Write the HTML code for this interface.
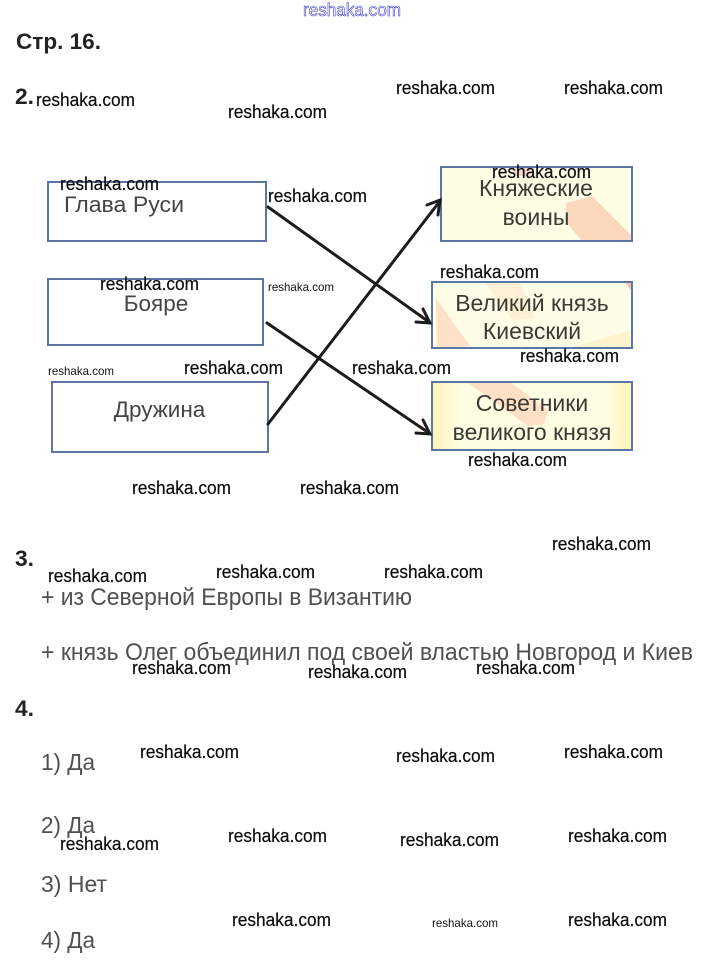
<!DOCTYPE html>
<html><head><meta charset="utf-8"><style>
html,body{margin:0;padding:0;background:#fff}
svg{display:block}
text{font-family:"Liberation Sans",sans-serif}
.w{font-size:18.5px;fill:#0c0c0c;stroke:#0c0c0c;stroke-width:.2}
.s{font-size:12px;fill:#111}
.t{font-size:22.5px;fill:#444}
.c{font-size:23px;fill:#3a3a32;text-anchor:middle}
.h{font-size:22px;font-weight:bold;fill:#222}
.b{font-size:23px;fill:#505050}
</style></head><body>
<svg width="702" height="965" viewBox="0 0 702 965" xmlns="http://www.w3.org/2000/svg">
<defs>
<linearGradient id="gl" x1="0" x2="1" y1="0" y2="0"><stop offset="0" stop-color="#fff2b8"/><stop offset="1" stop-color="#fffde4"/></linearGradient>
<linearGradient id="gr" x1="0" x2="1" y1="0" y2="0"><stop offset="0" stop-color="#fffde4"/><stop offset="1" stop-color="#fff4bc"/></linearGradient>
</defs>
<text x="303" y="16" font-size="18" fill="#fff" stroke="#3a3ac8" stroke-width=".6" textLength="98" lengthAdjust="spacingAndGlyphs">reshaka.com</text>
<text x="16" y="49" class="h" textLength="85" lengthAdjust="spacingAndGlyphs">Стр. 16.</text>
<text x="15" y="104" class="h" textLength="19" lengthAdjust="spacingAndGlyphs">2.</text>
<text x="15" y="566" class="h" textLength="19" lengthAdjust="spacingAndGlyphs">3.</text>
<text x="15" y="716" class="h" textLength="19" lengthAdjust="spacingAndGlyphs">4.</text>

<!-- right boxes -->
<g>
<rect x="441" y="167" width="191" height="74" fill="#fffde6"/>
<polygon points="566,203 592,196 632,236 632,241 582,241 566,222" fill="#fbd9bd"/>
<polygon points="510,167 535,167 530,176 516,176" fill="#f8dccb"/>
<rect x="432" y="282" width="200" height="66" fill="#fffde8"/>
<polygon points="436,298 470,346 437,348" fill="#fde2c9"/>
<polygon points="485,282 520,282 535,318 512,320" fill="#fef0d6"/>
<polygon points="625,282 632,282 632,292" fill="#f6c0b0"/>
<polygon points="570,348 632,348 632,330" fill="#fdf3cc"/>
<rect x="432" y="382" width="200" height="68" fill="#fffde4"/>
<rect x="432" y="382" width="28" height="68" fill="url(#gl)"/>
<rect x="604" y="382" width="28" height="68" fill="url(#gr)"/>
<polygon points="467,382 510,382 548,410 544,424 528,426" fill="#fde0c6"/>
</g>
<g fill="none" stroke="#5b76a3" stroke-width="2">
<rect x="48" y="182" width="218" height="59"/>
<rect x="48" y="279" width="215" height="66"/>
<rect x="52" y="382" width="216" height="70"/>
<rect x="441" y="167" width="191" height="74"/>
<rect x="432" y="282" width="200" height="66"/>
<rect x="432" y="382" width="200" height="68"/>
</g>

<!-- box text -->
<text x="64" y="212" class="t" textLength="120" lengthAdjust="spacingAndGlyphs">Глава Руси</text>
<text x="156" y="311" class="t" text-anchor="middle">Бояре</text>
<text x="159.500" y="417" class="t" text-anchor="middle">Дружина</text>
<text x="536" y="196" class="c">Княжеские</text>
<text x="536" y="225" class="c">воины</text>
<text x="532" y="311" class="c">Великий князь</text>
<text x="532" y="339" class="c">Киевский</text>
<text x="532" y="411" class="c">Советники</text>
<text x="532" y="440" class="c">великого князя</text>

<!-- arrows -->
<g fill="none" stroke="#1c1c1c" stroke-width="3" stroke-linecap="round">
<line x1="268" y1="207" x2="429" y2="322"/>
<polyline points="416,322 430,323 423,309"/>
<line x1="267" y1="323" x2="429" y2="433"/>
<polyline points="416,433 430,434 423,420"/>
<line x1="268" y1="424" x2="440" y2="201"/>
<polyline points="427,205 440,200 438,215"/>
</g>

<!-- body text -->
<text x="41" y="605" class="b" font-size="24" style="font-size:24px" textLength="371" lengthAdjust="spacingAndGlyphs">+ из Северной Европы в Византию</text>
<text x="41" y="660" class="b" style="font-size:24px" textLength="652" lengthAdjust="spacingAndGlyphs">+ князь Олег объединил под своей властью Новгород и Киев</text>
<text x="41" y="770" class="b" textLength="54" lengthAdjust="spacingAndGlyphs">1) Да</text>
<text x="41" y="833" class="b" textLength="54" lengthAdjust="spacingAndGlyphs">2) Да</text>
<text x="41" y="892" class="b" textLength="66" lengthAdjust="spacingAndGlyphs">3) Нет</text>
<text x="41" y="948" class="b" textLength="54" lengthAdjust="spacingAndGlyphs">4) Да</text>

<!-- watermarks -->
<g>
<text class="w" x="36" y="106" textLength="99" lengthAdjust="spacingAndGlyphs">reshaka.com</text>
<text class="w" x="228" y="118" textLength="99" lengthAdjust="spacingAndGlyphs">reshaka.com</text>
<text class="w" x="396" y="94" textLength="99" lengthAdjust="spacingAndGlyphs">reshaka.com</text>
<text class="w" x="564" y="94" textLength="99" lengthAdjust="spacingAndGlyphs">reshaka.com</text>
<text class="w" x="60" y="190" textLength="99" lengthAdjust="spacingAndGlyphs">reshaka.com</text>
<text class="w" x="268" y="202" textLength="99" lengthAdjust="spacingAndGlyphs">reshaka.com</text>
<text class="w" x="492" y="178" textLength="99" lengthAdjust="spacingAndGlyphs">reshaka.com</text>
<text class="w" x="100" y="290" textLength="99" lengthAdjust="spacingAndGlyphs">reshaka.com</text>
<text class="w" x="440" y="278" textLength="99" lengthAdjust="spacingAndGlyphs">reshaka.com</text>
<text class="w" x="520" y="362" textLength="99" lengthAdjust="spacingAndGlyphs">reshaka.com</text>
<text class="w" x="184" y="374" textLength="99" lengthAdjust="spacingAndGlyphs">reshaka.com</text>
<text class="w" x="352" y="374" textLength="99" lengthAdjust="spacingAndGlyphs">reshaka.com</text>
<text class="w" x="468" y="466" textLength="99" lengthAdjust="spacingAndGlyphs">reshaka.com</text>
<text class="w" x="132" y="494" textLength="99" lengthAdjust="spacingAndGlyphs">reshaka.com</text>
<text class="w" x="300" y="494" textLength="99" lengthAdjust="spacingAndGlyphs">reshaka.com</text>
<text class="w" x="552" y="550" textLength="99" lengthAdjust="spacingAndGlyphs">reshaka.com</text>
<text class="w" x="48" y="582" textLength="99" lengthAdjust="spacingAndGlyphs">reshaka.com</text>
<text class="w" x="216" y="578" textLength="99" lengthAdjust="spacingAndGlyphs">reshaka.com</text>
<text class="w" x="384" y="578" textLength="99" lengthAdjust="spacingAndGlyphs">reshaka.com</text>
<text class="w" x="132" y="674" textLength="99" lengthAdjust="spacingAndGlyphs">reshaka.com</text>
<text class="w" x="308" y="678" textLength="99" lengthAdjust="spacingAndGlyphs">reshaka.com</text>
<text class="w" x="476" y="674" textLength="99" lengthAdjust="spacingAndGlyphs">reshaka.com</text>
<text class="w" x="140" y="758" textLength="99" lengthAdjust="spacingAndGlyphs">reshaka.com</text>
<text class="w" x="396" y="762" textLength="99" lengthAdjust="spacingAndGlyphs">reshaka.com</text>
<text class="w" x="564" y="758" textLength="99" lengthAdjust="spacingAndGlyphs">reshaka.com</text>
<text class="w" x="228" y="842" textLength="99" lengthAdjust="spacingAndGlyphs">reshaka.com</text>
<text class="w" x="400" y="846" textLength="99" lengthAdjust="spacingAndGlyphs">reshaka.com</text>
<text class="w" x="568" y="842" textLength="99" lengthAdjust="spacingAndGlyphs">reshaka.com</text>
<text class="w" x="60" y="850" textLength="99" lengthAdjust="spacingAndGlyphs">reshaka.com</text>
<text class="w" x="232" y="926" textLength="99" lengthAdjust="spacingAndGlyphs">reshaka.com</text>
<text class="w" x="568" y="926" textLength="99" lengthAdjust="spacingAndGlyphs">reshaka.com</text>
<text class="s" x="268" y="291" textLength="66" lengthAdjust="spacingAndGlyphs">reshaka.com</text>
<text class="s" x="48" y="375" textLength="66" lengthAdjust="spacingAndGlyphs">reshaka.com</text>
<text class="s" x="432" y="927" textLength="66" lengthAdjust="spacingAndGlyphs">reshaka.com</text>
</g>
</svg>
</body></html>
